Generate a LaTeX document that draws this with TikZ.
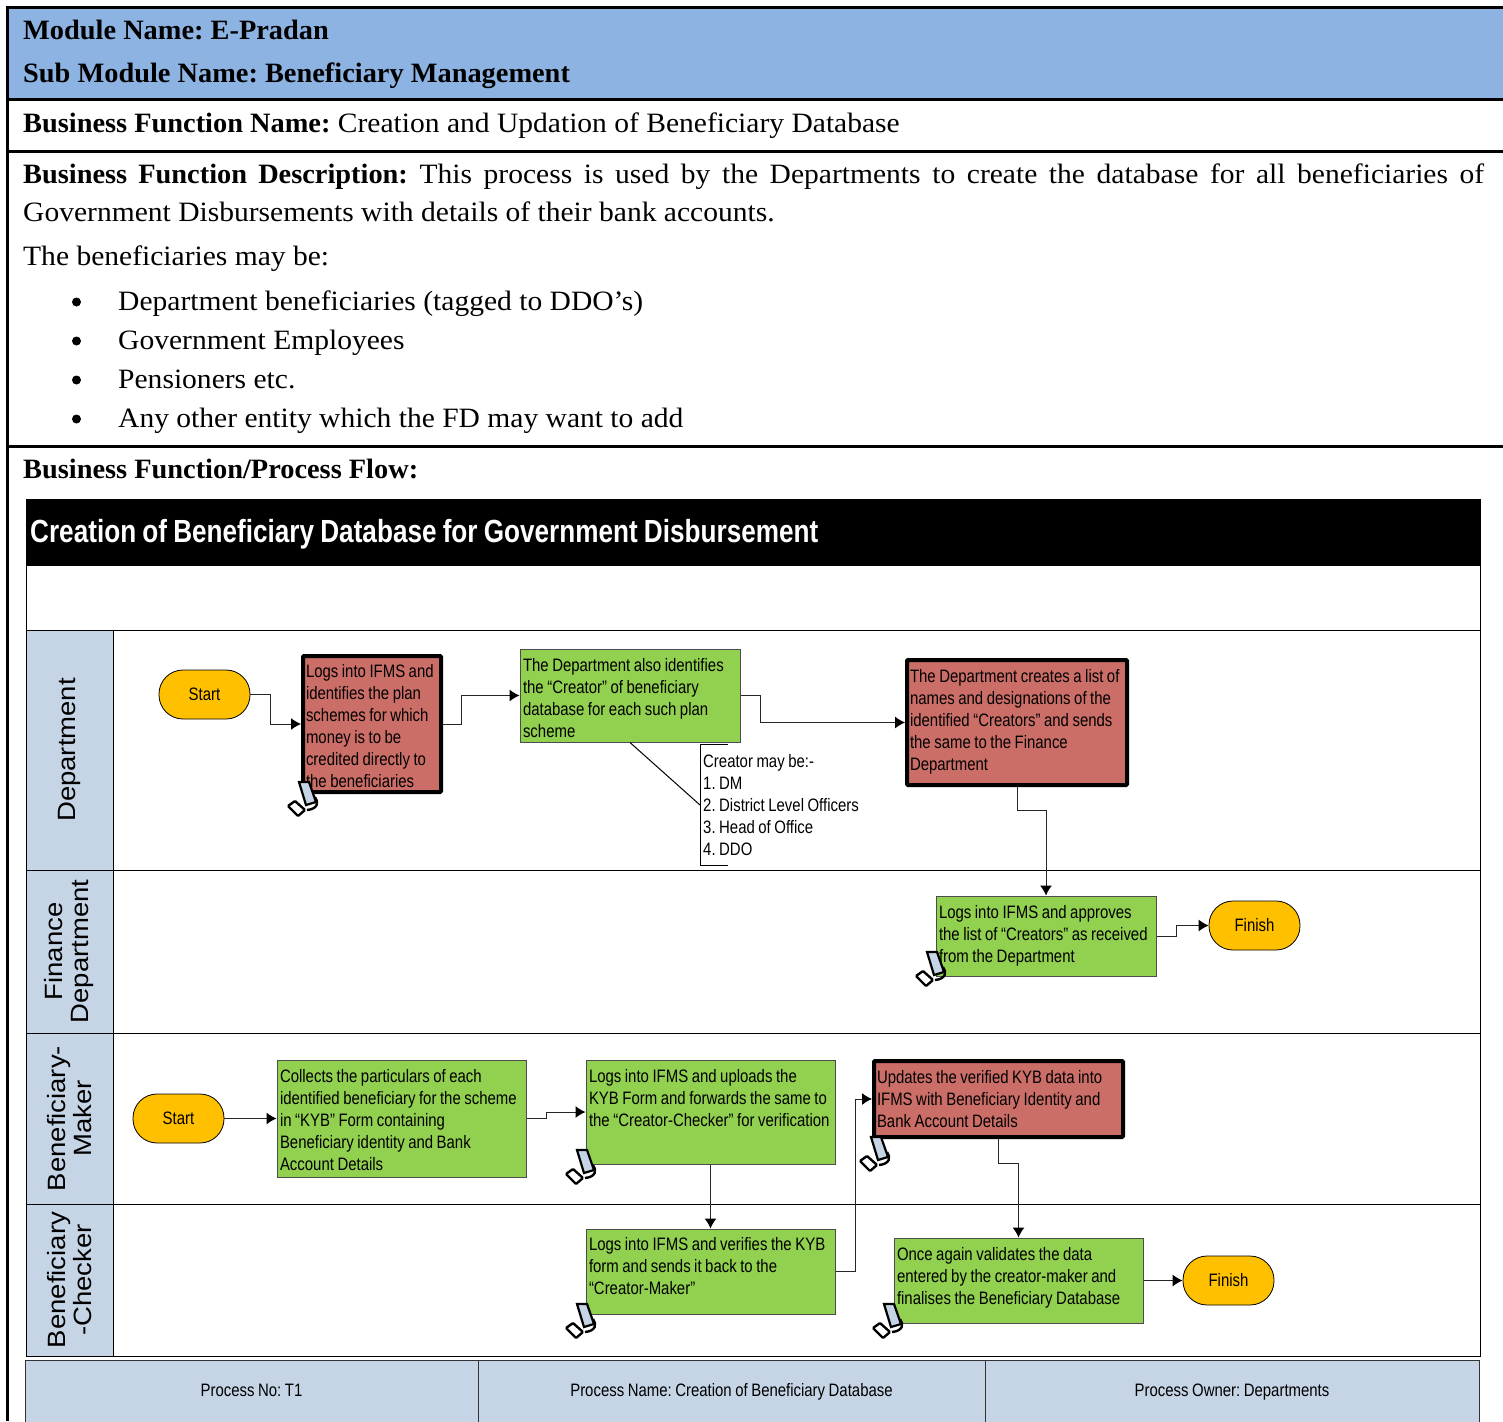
\documentclass[tikz,border=0pt]{standalone}
\usepackage{fontspec}
\usetikzlibrary{arrows.meta}
\setmainfont{Liberation Serif}[FakeStretch=1.055, BoldFeatures={FakeStretch=1.013}]
\newfontfamily\flowfont[FakeStretch=0.83, WordSpace=0.85]{Liberation Sans}
\newfontfamily\titlefont[FakeStretch=0.817, WordSpace=0.85]{Liberation Sans}
\newfontfamily\lanefont[FakeStretch=1.1]{Liberation Sans}
\frenchspacing
\hyphenpenalty=10000
\definecolor{headblue}{RGB}{141,179,226}
\definecolor{laneblue}{RGB}{198,213,230}
\definecolor{boxgreen}{RGB}{146,208,80}
\definecolor{boxred}{RGB}{204,110,104}
\definecolor{startyellow}{RGB}{255,192,0}
\tikzset{
	body/.style={anchor=base west, inner sep=0pt, font=\fontsize{28}{38}\selectfont},
	flowtext/.style={font=\flowfont\fontsize{18}{22}\selectfont, align=flush left, inner xsep=3pt, inner ysep=0pt},
	greenbox/.style={flowtext, draw=black!70, line width=1pt, fill=boxgreen},
	redbox/.style={flowtext, draw=black, line width=4pt, fill=boxred, rounded corners=1pt},
	terminal/.style={draw=black, line width=0.8pt, fill=startyellow, rounded corners=24pt, minimum width=91pt, minimum height=49pt, font=\flowfont\fontsize{18}{22}\selectfont, inner sep=0pt},
	lanehead/.style={draw=black, line width=1pt, fill=laneblue, rotate=90, minimum height=87pt, inner sep=0pt, align=center, font=\lanefont\fontsize{25}{26}\selectfont},
	footbox/.style={draw=black!80, line width=1pt, fill=laneblue, minimum height=62pt, inner sep=0pt, text height=14pt, text depth=3pt, font=\flowfont\fontsize{18}{22}\selectfont},
	listdot/.style={circle, fill=black, inner sep=0pt, minimum size=9pt},
	flow/.style={-{Latex[length=10pt,width=12pt,black]}, line width=1pt, draw=black!85},
	phone/.pic={
		\draw[line width=2.2pt, fill=laneblue] (-4,-18) -- (6,-18) -- (13,2) -- (3,5) -- cycle;
		\draw[line width=2.4pt] (12,-3) .. controls (16,2) and (15,9) .. (4,10);
		\draw[line width=2.4pt, fill=white, rounded corners=1pt] (-15,6) -- (-8,1) -- (2,10) -- (-5,16) -- cycle;
	}
}
\begin{document}
\begin{tikzpicture}[x=1pt, y=-1pt]
	\useasboundingbox (0,0) rectangle (1503,1421);

	% document table
	\fill[headblue] (8,8) rectangle (1503,99);
	\draw[line width=3pt] (1503,7.5) -- (7.5,7.5) -- (7.5,1421);
	\draw[line width=3pt] (8,99.5) -- (1503,99.5);
	\draw[line width=3pt] (8,151.5) -- (1503,151.5);
	\draw[line width=3pt] (8,446.5) -- (1503,446.5);
	\node[body] (modname) at (23,40) {\textbf{Module Name: E-Pradan}};
	\node[body] (submod) at (23,82) {\textbf{Sub Module Name: Beneficiary Management}};
	\node[body] (bfname) at (23,132) {\textbf{Business Function Name:} Creation and Updation of Beneficiary Database};
	\node[body] (bfdesc) at (23,183) {\makebox[1461pt][s]{\textbf{Business Function Description:} This process is used by the Departments to create the database for all beneficiaries of}};
	\node[body] (bfdesctwo) at (23,221) {Government Disbursements with details of their bank accounts.};
	\node[body] (maybe) at (23,265) {The beneficiaries may be:};
	\foreach \i/\yy/\txt in {1/310/{Department beneficiaries (tagged to DDO’s)},
		2/349/{Government Employees},
		3/388/{Pensioners etc.},
		4/427/{Any other entity which the FD may want to add}} {
		\node[listdot] (dot\i) at (76.5,\yy-8) {};
		\node[body] (item\i) at (118,\yy) {\txt};
	}
	\node[body] (bfflow) at (23,478) {\textbf{Business Function/Process Flow:}};

	% title and lanes
	\draw[line width=1pt] (26,499) rectangle (1480,1356);
	\fill[black] (26,499) rectangle (1480,566);
	\node[anchor=base west, inner sep=0pt, text=white, font=\titlefont\bfseries\fontsize{32}{36}\selectfont] (title) at (30,542) {Creation of Beneficiary Database for Government Disbursement};
	\draw[line width=1pt] (26,630) -- (1480,630);
	\draw[line width=1pt] (26,870) -- (1480,870);
	\draw[line width=1pt] (26,1033) -- (1480,1033);
	\draw[line width=1pt] (26,1204) -- (1480,1204);
	\node[lanehead, minimum width=240pt] (lanedept) at (69.5,750) {Department};
	\node[lanehead, minimum width=163pt] (lanefin) at (69.5,951.5) {Finance\\Department};
	\node[lanehead, minimum width=171pt] (lanemaker) at (69.5,1118.5) {Beneficiary-\\Maker};
	\node[lanehead, minimum width=152pt] (lanechecker) at (69.5,1280) {Beneficiary\\-Checker};

	% department lane
	\node[terminal] (startone) at (204.5,694.5) {Start};
	\node[redbox, text width=132pt, minimum height=136pt] (logsin) at (372,724) {\mbox{}\\[-5pt]Logs into IFMS and\\identifies the plan\\schemes for which\\money is to be\\credited directly to\\the beneficiaries};
	\node[greenbox, text width=214pt, minimum height=93pt] (identify) at (630,695.5) {\mbox{}\\[-3pt]The Department also identifies\\the “Creator” of beneficiary\\database for each such plan\\scheme};
	\node[redbox, text width=214pt, minimum height=125pt] (creates) at (1017,722.5) {The Department creates a list of\\names and designations of the\\identified “Creators” and sends\\the same to the Finance\\Department\\[-16pt]\mbox{}};
	\node[flowtext, anchor=west, text width=170pt, minimum height=120pt] (note) at (700,805) {Creator may be:-\\1. DM\\2. District Level Officers\\3. Head of Office\\4. DDO};
	\draw[line width=1pt] ([xshift=28pt]note.north west) -- (note.north west) -- (note.south west) -- ([xshift=28pt]note.south west);
	\draw[line width=1pt] (identify.south) -- (note.west);

	% finance lane
	\node[greenbox, text width=214pt, minimum height=80pt] (approve) at (1046,936) {Logs into IFMS and approves\\the list of “Creators” as received\\from the Department};
	\node[terminal] (finishone) at (1254.5,925.5) {Finish};

	% maker lane
	\node[terminal] (starttwo) at (178.5,1118.5) {Start};
	\node[greenbox, text width=243pt, minimum height=117pt] (collect) at (401.5,1118.5) {\mbox{}\\[-5pt]Collects the particulars of each\\identified beneficiary for the scheme\\in “KYB” Form containing\\Beneficiary identity and Bank\\Account Details};
	\node[greenbox, text width=243pt, minimum height=104pt] (upload) at (710.5,1112) {Logs into IFMS and uploads the\\KYB Form and forwards the same to\\the “Creator-Checker” for verification\\[6pt]\mbox{}};
	\node[redbox, text width=243pt, minimum height=76pt] (update) at (998.5,1099) {Updates the verified KYB data into\\IFMS with Beneficiary Identity and\\Bank Account Details};

	% checker lane
	\node[greenbox, text width=243pt, minimum height=85pt] (verify) at (710.5,1271.5) {Logs into IFMS and verifies the KYB\\form and sends it back to the\\“Creator-Maker”\\[-10pt]\mbox{}};
	\node[greenbox, text width=243pt, minimum height=85pt] (validate) at (1018.5,1280.5) {Once again validates the data\\entered by the creator-maker and\\finalises the Beneficiary Database\\[-12pt]\mbox{}};
	\node[terminal] (finishtwo) at (1228.5,1280.5) {Finish};

	% connectors
	\draw[flow] (startone.east) -- ++(20,0) |- (logsin.west);
	\draw[flow] (logsin.east) -- ++(18,0) |- (identify.west);
	\draw[flow] (identify.east) -- ++(20,0) |- (creates.west);
	\draw[flow] (creates.south) -- ++(0,23) -| (approve.north);
	\draw[flow] (approve.east) -- ++(20,0) |- (finishone.west);
	\draw[flow] (starttwo.east) -- (collect.west);
	\draw[flow] (collect.east) -- ++(20,0) |- (upload.west);
	\draw[flow] (upload.south) -- (verify.north);
	\draw[flow] (verify.east) -- ++(20,0) |- (update.west);
	\draw[flow] (update.south) -- ++(0,24) -| (validate.north);
	\draw[flow] (validate.east) -- (finishtwo.west);

	% system icons
	\pic at (303,800) {phone};
	\pic at (931,970) {phone};
	\pic at (581,1168) {phone};
	\pic at (875,1155) {phone};
	\pic at (581,1322) {phone};
	\pic at (888,1322) {phone};

	% footer
	\node[footbox, minimum width=453pt] (procno) at (251.5,1391) {Process No: T1};
	\node[footbox, minimum width=507pt] (procname) at (731.5,1391) {Process Name: Creation of Beneficiary Database};
	\node[footbox, minimum width=494pt] (procowner) at (1232,1391) {Process Owner: Departments};
\end{tikzpicture}
\end{document}
